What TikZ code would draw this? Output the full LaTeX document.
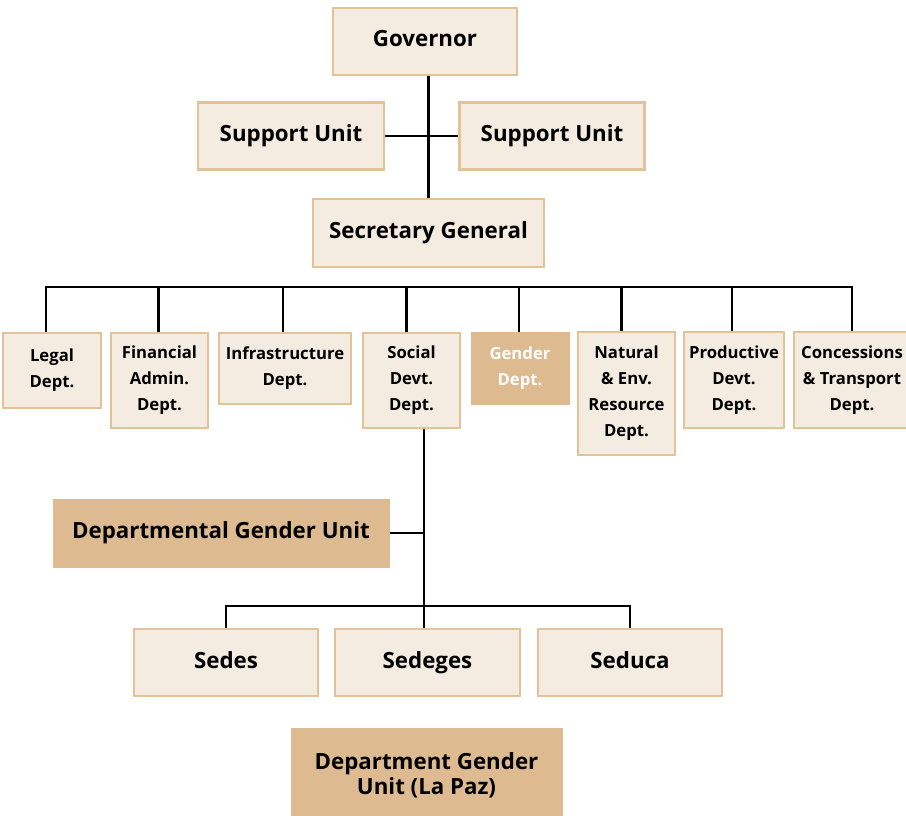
\documentclass[tikz,border=0pt]{standalone}
\usepackage{fontspec}
\setsansfont{Open Sans}
\usetikzlibrary{positioning,calc}

\definecolor{cream}{HTML}{F5ECE1}
\definecolor{tanline}{HTML}{E2C296}
\definecolor{tanfill}{HTML}{DDBA8F}

\begin{document}
\begin{tikzpicture}[
    x=1pt, y=-1pt,
    every node/.style={inner sep=2pt, align=center, font=\sffamily\bfseries},
    unit/.style={draw=tanline, line width=2.5pt, fill=cream, text height=16pt, text depth=5pt, font=\sffamily\bfseries\fontsize{22.3}{25}\selectfont},
    dept/.style={draw=tanline, line width=2.5pt, fill=cream, font=\sffamily\bfseries\fontsize{16.7}{26}\selectfont},
    hilite/.style={draw=tanfill, line width=1pt, fill=tanfill},
    link/.style={draw=black, line width=2.7pt}
]
\useasboundingbox (0,0) rectangle (906,816);

% top
\node[unit, minimum width=184pt, minimum height=67pt] (gov) at (425,41.5) {Governor};
\node[unit, minimum width=186pt, minimum height=67pt] (supL) at (291,136) {Support Unit};
\node[unit, minimum width=185pt, minimum height=67pt] (supR) at (552,136) {Support Unit};
\node[unit, minimum width=231pt, minimum height=68pt] (sec) at (428.5,233) {Secretary General};

% departments
\node[dept, minimum width=98pt, minimum height=75pt] (legal) at (52,370.5) {Legal\\Dept.};
\node[dept, minimum width=97pt, minimum height=95pt] (fin) at (159.5,380.5) {Financial\\Admin.\\Dept.};
\node[dept, minimum width=132pt, minimum height=71pt] (infra) at (285,368.5) {Infrastructure\\Dept.};
\node[dept, minimum width=97pt, minimum height=95pt] (social) at (411.5,380.5) {Social\\Devt.\\Dept.};
\node[dept, hilite, text=white, minimum width=98pt, minimum height=72pt] (gender) at (520,368) {Gender\\Dept.};
\node[dept, minimum width=97pt, minimum height=123pt] (natural) at (626.5,393.5) {Natural\\\& Env.\\Resource\\Dept.};
\node[dept, minimum width=100pt, minimum height=96pt] (prod) at (734,380) {Productive\\Devt.\\Dept.};
\node[dept, minimum width=116pt, minimum height=96pt] (conc) at (852,380) {Concessions\\\& Transport\\Dept.};

% gender units
\node[unit, hilite, minimum width=336pt, minimum height=68pt] (dgu) at (221,533) {Departmental Gender Unit};
\node[unit, minimum width=184pt, minimum height=67pt] (sedes) at (226,662.5) {Sedes};
\node[unit, minimum width=185pt, minimum height=67pt] (sedeges) at (427.5,662.5) {Sedeges};
\node[unit, minimum width=184pt, minimum height=67pt] (seduca) at (630,662.5) {Seduca};
\node[unit, hilite, text height=, text depth=, minimum width=271pt, minimum height=94pt] (lapaz) at (426.5,775) {Department Gender\\Unit (La Paz)};

\coordinate (bus) at (0,287);
\coordinate (trunk) at (424,606);

% connectors
\draw[link] (gov.south -| sec.north) -- (sec.north);
\draw[link] (supL.east) -- (supR.west);
\draw[link] ([xshift=-6pt]legal.north) |- (conc.north |- bus) -- (conc.north);
\foreach \d/\s in {fin/-1,infra/-2,social/-5,gender/-1,natural/-5,prod/-2}
    \draw[link] ([xshift=\s pt]\d.north) -- ([xshift=\s pt]\d.north |- bus);
\draw[link] (social.south -| trunk) -- (trunk |- sedeges.north);
\draw[link] (dgu.east) -- (dgu.east -| trunk);
\draw[link] (sedes.north) |- (seduca.north |- trunk) -- (seduca.north);

\end{tikzpicture}
\end{document}
